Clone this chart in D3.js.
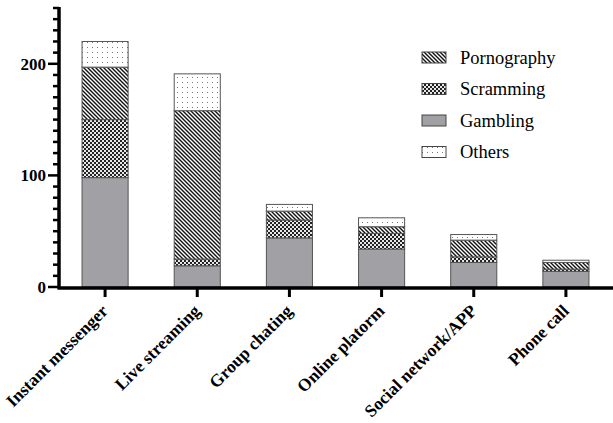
<!DOCTYPE html>
<html>
<head>
<meta charset="utf-8">
<script src="https://cdn.jsdelivr.net/npm/d3@7"></script>
<style>
  body { margin: 0; background: #fff; }
  svg { display: block; }
</style>
</head>
<body>
<div class="chart"></div>
<script>
const width = 613
const height = 423
const margin = { top: 8, right: 1, bottom: 136, left: 59 }
const font = "'Liberation Serif', 'Times New Roman', Times, serif"

// data
const categories = ['Instant messenger', 'Live streaming', 'Group chating', 'Online platorm', 'Social network/APP', 'Phone call']
const gambling    = [98, 19, 44, 34, 22, 14]
const scramming   = [52, 6, 16, 14, 5, 2]
const pornography = [47, 133, 8, 6, 15, 6]
const others      = [23, 33, 6, 8, 5, 2]
const keys = ['Gambling', 'Scramming', 'Pornography', 'Others']
const legendOrder = ['Pornography', 'Scramming', 'Gambling', 'Others']
const yTicks = [0, 100, 200]

const table = categories.map((c, i) => ({
    cat: c,
    Gambling: gambling[i],
    Scramming: scramming[i],
    Pornography: pornography[i],
    Others: others[i]
}))

const svg = d3.select('.chart').append('svg')
    .attr('width', width)
    .attr('height', height)
    .attr('font-family', font)

// patterns
const defs = svg.append('defs')
let p = defs.append('pattern').attr('id', 'pat-porn')
    .attr('patternUnits', 'userSpaceOnUse').attr('width', 4).attr('height', 4)
p.append('rect').attr('width', 4).attr('height', 4).attr('fill', '#fff')
p.append('path').attr('d', 'M-1,-1 L5,5 M-1,3 L1,5 M3,-1 L5,1')
    .attr('stroke', '#111').attr('stroke-width', 1.4)

p = defs.append('pattern').attr('id', 'pat-scram')
    .attr('patternUnits', 'userSpaceOnUse').attr('width', 4).attr('height', 4)
p.append('rect').attr('width', 4).attr('height', 4).attr('fill', '#e8e8e8')
p.append('rect').attr('width', 2).attr('height', 2).attr('fill', '#222')
p.append('rect').attr('x', 2).attr('y', 2).attr('width', 2).attr('height', 2).attr('fill', '#222')

p = defs.append('pattern').attr('id', 'pat-others')
    .attr('patternUnits', 'userSpaceOnUse').attr('width', 5).attr('height', 5)
p.append('rect').attr('width', 5).attr('height', 5).attr('fill', '#fff')
p.append('rect').attr('x', 2).attr('y', 2).attr('width', 1).attr('height', 1).attr('fill', '#777')

const fills = {
    Gambling: '#a1a1a5',
    Scramming: 'url(#pat-scram)',
    Pornography: 'url(#pat-porn)',
    Others: 'url(#pat-others)'
}

const x = d3.scaleBand()
    .domain(categories)
    .range([margin.left, width - margin.right])
    .paddingInner(0.5)
    .paddingOuter(0.25)

const y = d3.scaleLinear()
    .domain([0, 250])
    .range([height - margin.bottom, margin.top])

const series = d3.stack().keys(keys)(table)

svg.append('g')
    .selectAll('g')
    .data(series)
    .join('g')
    .attr('fill', d => fills[d.key])
    .selectAll('rect')
    .data(d => d)
    .join('rect')
    .attr('x', d => x(d.data.cat))
    .attr('y', d => y(d[1]))
    .attr('width', x.bandwidth())
    .attr('height', d => y(d[0]) - y(d[1]))
    .attr('stroke', '#555')
    .attr('stroke-width', 1)

// y axis with minor ticks
const yAxis = svg.append('g').attr('transform', `translate(${margin.left},0)`)
yAxis.selectAll('line.minor')
    .data(d3.range(0, 251, 10))
    .join('line')
    .attr('x1', d => yTicks.includes(d) ? -11 : -6)
    .attr('x2', 0)
    .attr('y1', d => y(d)).attr('y2', d => y(d))
    .attr('stroke', '#000').attr('stroke-width', 2.5)
yAxis.append('line')
    .attr('x1', 0).attr('x2', 0)
    .attr('y1', y(250) - 1).attr('y2', y(0) + 1.5)
    .attr('stroke', '#000').attr('stroke-width', 3.5)
yAxis.selectAll('text')
    .data(yTicks)
    .join('text')
    .attr('x', -13)
    .attr('y', d => y(d))
    .attr('dy', '0.35em')
    .attr('text-anchor', 'end')
    .attr('font-weight', 'bold')
    .attr('font-size', 17)
    .text(d => d)

// x axis
const xAxis = svg.append('g').attr('transform', `translate(0,${y(0)})`)
xAxis.append('line')
    .attr('x1', margin.left - 1.5).attr('x2', width)
    .attr('y1', 1).attr('y2', 1)
    .attr('stroke', '#000').attr('stroke-width', 3.5)
xAxis.selectAll('line.tick')
    .data(categories)
    .join('line')
    .attr('class', 'tick')
    .attr('x1', d => x(d) + x.bandwidth() / 2)
    .attr('x2', d => x(d) + x.bandwidth() / 2)
    .attr('y1', 1).attr('y2', 10)
    .attr('stroke', '#000').attr('stroke-width', 3)
xAxis.selectAll('text')
    .data(categories)
    .join('text')
    .attr('transform', d => `translate(${x(d) + x.bandwidth() / 2 + 4},${25}) rotate(-45)`)
    .attr('text-anchor', 'end')
    .attr('font-weight', 'bold')
    .attr('font-size', 17.5)
    .text(d => d)

// legend
const legend = svg.append('g')
legendOrder.forEach((k, i) => {
    const ly = 57.5 + i * 31.5
    legend.append('rect')
        .attr('x', 422).attr('y', ly - 5.5)
        .attr('width', 24).attr('height', 11)
        .attr('fill', fills[k])
        .attr('stroke', '#444').attr('stroke-width', 1)
    legend.append('text')
        .attr('x', 460).attr('y', ly)
        .attr('dy', '0.35em')
        .attr('font-size', 18.5)
        .text(k)
})
</script>
</body>
</html>
